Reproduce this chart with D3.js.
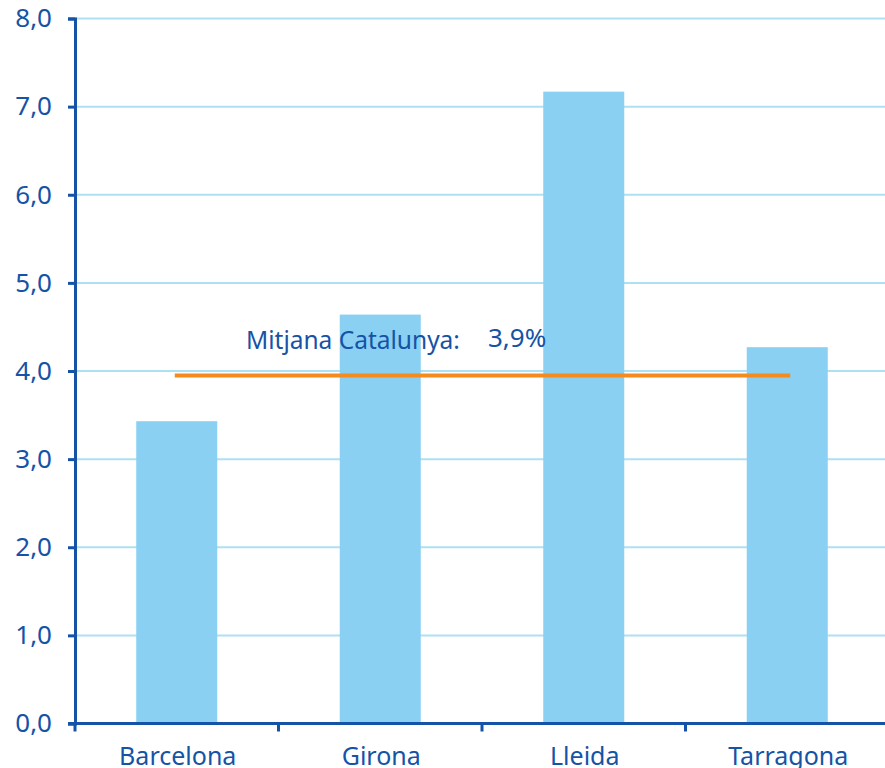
<!DOCTYPE html>
<html>
<head>
<meta charset="utf-8">
<script src="https://cdn.jsdelivr.net/npm/d3@7"></script>
<style>
  body { margin: 0; background: #fff; }
  text { font-family: "Noto Sans", sans-serif; fill: #1553a6; }
</style>
</head>
<body>
<svg id="chart" width="885" height="768"></svg>
<script>
var provinces = ["Barcelona", "Girona", "Lleida", "Tarragona"];
var values = [3.43, 4.64, 7.17, 4.27];
var average = 3.95;
var averageLabel = "Mitjana Catalunya:";
var averageValue = "3,9%";
var yTicks = [0, 1, 2, 3, 4, 5, 6, 7, 8];

var svg = d3.select("#chart");
var axisColor = "#1553a6";

var xb = d3.scaleBand().domain(provinces).range([75, 889]);
var y = d3.scaleLinear().domain([0, 8]).range([723.5, 18.5]);

// gridlines
svg.selectAll(".grid").data(yTicks.slice(1)).enter().append("line")
    .attr("class", "grid")
    .attr("x1", 75).attr("x2", 885)
    .attr("y1", function(d){ return y(d) }).attr("y2", function(d){ return y(d) })
    .attr("stroke", "#aee0f3").attr("stroke-width", 2);

// bars
svg.selectAll(".bar").data(values).enter().append("rect")
    .attr("class", "bar")
    .attr("x", function(d, i){ return xb(provinces[i]) + xb.bandwidth() / 2 - 40.5 })
    .attr("width", 81)
    .attr("y", function(d){ return y(d) })
    .attr("height", function(d){ return y(0) - y(d) })
    .attr("fill", "#89d0f2");

// average line
var c0 = xb(provinces[0]) + xb.bandwidth() / 2;
var c3 = xb(provinces[3]) + xb.bandwidth() / 2;
svg.append("line")
    .attr("x1", c0 - 2).attr("x2", c3 + 3)
    .attr("y1", y(average)).attr("y2", y(average))
    .attr("stroke", "#f58a1f").attr("stroke-width", 4);

svg.append("text").attr("x", 246).attr("y", 349)
    .style("font-size", "24.5px").text(averageLabel);
svg.append("text").attr("x", 488).attr("y", 347)
    .style("font-size", "26px").text(averageValue);

// y axis
var yAxis = d3.axisLeft(y).tickValues(yTicks).tickSize(7).tickPadding(16)
    .tickFormat(function(d){ return d3.format(".1f")(d).replace(".", ",") });
var gy = svg.append("g").attr("transform", "translate(75,0)").call(yAxis);
gy.select(".domain").attr("stroke", axisColor).attr("stroke-width", 3);
gy.selectAll(".tick line").attr("stroke", axisColor).attr("stroke-width", 3);
gy.selectAll(".tick text").style("font-size", "26px").style("fill", axisColor);

// x axis
var gx = svg.append("g").attr("transform", "translate(0," + y(0) + ")");
gx.append("line").attr("x1", 68).attr("x2", 885).attr("y1", 0).attr("y2", 0)
    .attr("stroke", axisColor).attr("stroke-width", 3);
var bounds = provinces.map(function(p){ return xb(p) }).concat([889]);
gx.selectAll(".xtick").data(bounds).enter().append("line")
    .attr("x1", function(d){ return d }).attr("x2", function(d){ return d })
    .attr("y1", 0).attr("y2", 8)
    .attr("stroke", axisColor).attr("stroke-width", 3);
gx.selectAll(".xlabel").data(provinces).enter().append("text")
    .attr("x", function(d){ return xb(d) + xb.bandwidth() / 2 + 1 })
    .attr("y", 41)
    .attr("text-anchor", "middle")
    .style("font-size", "25px")
    .text(function(d){ return d });
</script>
</body>
</html>
